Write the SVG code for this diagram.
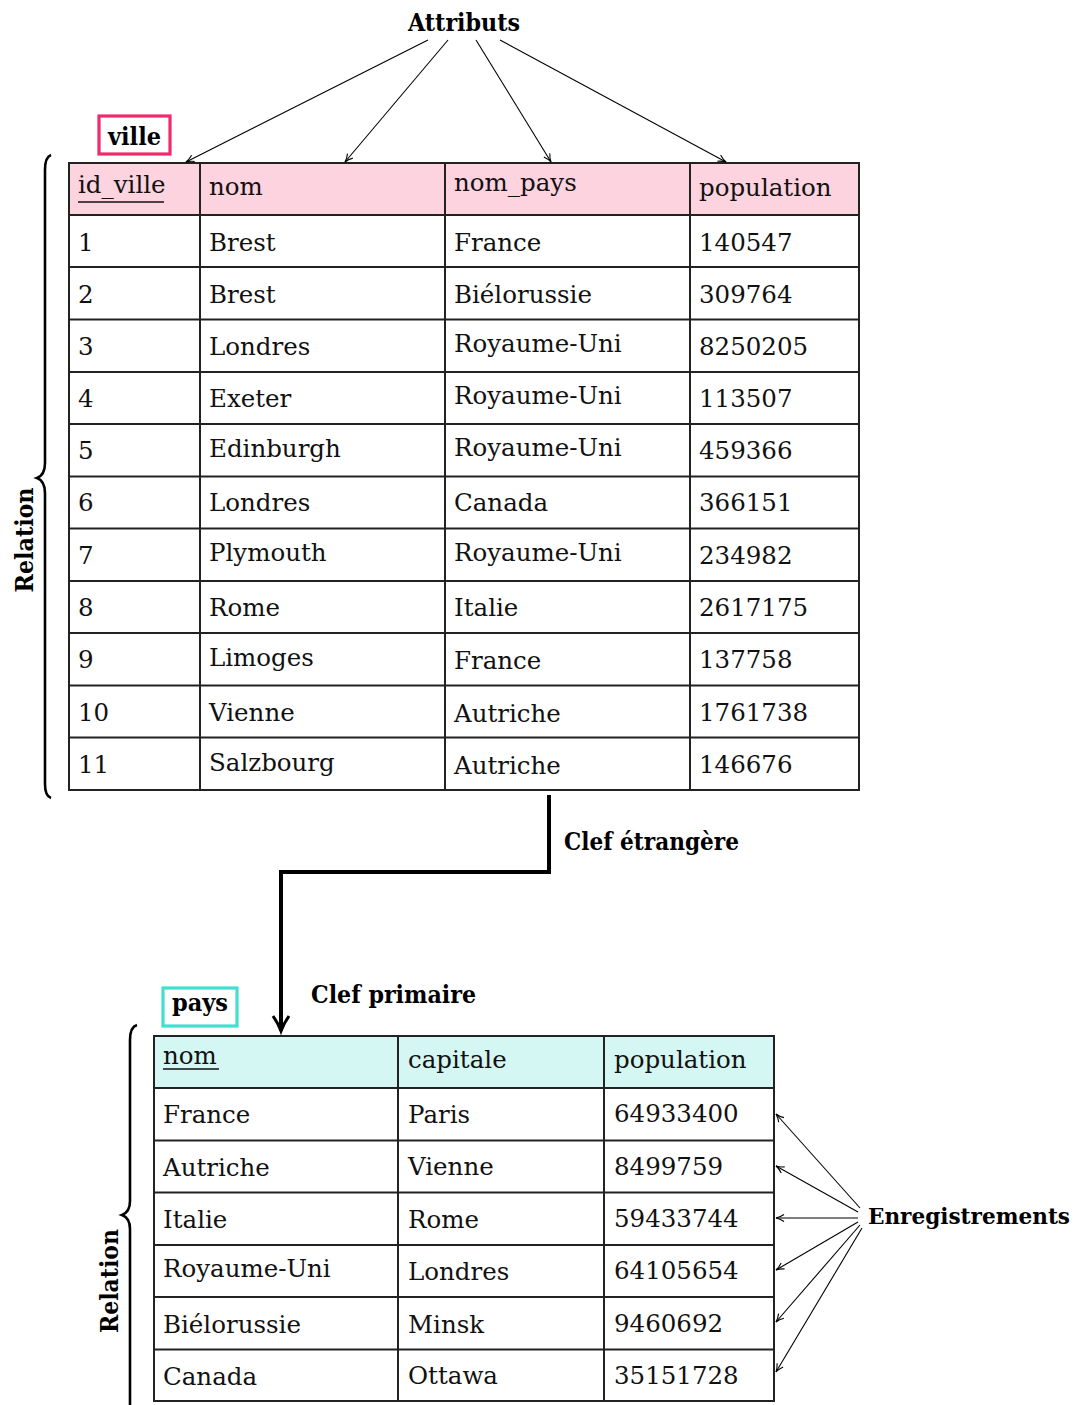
<svg xmlns="http://www.w3.org/2000/svg" width="1080" height="1405" viewBox="0 0 1080 1405">
<defs>
<style>
.t{font-family:"DejaVu Serif","Liberation Serif",serif;font-size:24.5px;fill:#111}
.b{font-family:"DejaVu Serif","Liberation Serif",serif;font-size:24px;font-weight:bold;fill:#000}
.grid{stroke:#222;stroke-width:2;fill:none}
.thin{stroke:#000;stroke-width:1.1;fill:none}
.brace{stroke:#000;stroke-width:2.6;fill:none}
</style>
<marker id="ah" markerWidth="12" markerHeight="10" refX="9" refY="5" orient="auto" markerUnits="userSpaceOnUse">
<path d="M1,1.5 Q5,4.2 9,5 Q5,5.8 1,8.5" fill="none" stroke="#000" stroke-width="1.1"/>
</marker>
<marker id="ahb" markerWidth="22" markerHeight="20" refX="16" refY="10" orient="auto" markerUnits="userSpaceOnUse">
<path d="M1,2 Q9,7.5 16,10 Q9,12.5 1,18" fill="none" stroke="#000" stroke-width="3"/>
</marker>
</defs>
<rect width="1080" height="1405" fill="#fff"/>

<g id="label-attributs"><text class="b" x="408" y="31" textLength="112" lengthAdjust="spacingAndGlyphs">Attributs</text></g>

<g id="ville-label">
<rect x="99" y="116" width="71" height="38" fill="#fff" stroke="#f22a6c" stroke-width="3.2"/>
<text class="b" x="108" y="145" textLength="53" lengthAdjust="spacingAndGlyphs">ville</text>
</g>

<g id="table-ville">
<rect x="69" y="163" width="790" height="52" fill="#fdd3df"/>
<g class="grid">
<rect x="69" y="163" width="790" height="627"/>
<line x1="200" y1="163" x2="200" y2="790"/>
<line x1="445" y1="163" x2="445" y2="790"/>
<line x1="690" y1="163" x2="690" y2="790"/>
<line x1="69" y1="215" x2="859" y2="215"/>
<line x1="69" y1="267" x2="859" y2="267"/>
<line x1="69" y1="319.5" x2="859" y2="319.5"/>
<line x1="69" y1="372" x2="859" y2="372"/>
<line x1="69" y1="424" x2="859" y2="424"/>
<line x1="69" y1="476.5" x2="859" y2="476.5"/>
<line x1="69" y1="528.5" x2="859" y2="528.5"/>
<line x1="69" y1="581" x2="859" y2="581"/>
<line x1="69" y1="633" x2="859" y2="633"/>
<line x1="69" y1="685.5" x2="859" y2="685.5"/>
<line x1="69" y1="737.5" x2="859" y2="737.5"/>
</g>
<line x1="78" y1="202" x2="164" y2="202" stroke="#111" stroke-width="1.3"/>
<text class="t" x="78" y="193">id_ville</text>
<text class="t" x="209" y="195">nom</text>
<text class="t" x="454" y="191">nom_pays</text>
<text class="t" x="699" y="196">population</text>

<text class="t" x="78" y="251">1</text><text class="t" x="209" y="251">Brest</text><text class="t" x="454" y="251">France</text><text class="t" x="699" y="251">140547</text>
<text class="t" x="78" y="303">2</text><text class="t" x="209" y="303">Brest</text><text class="t" x="454" y="303">Biélorussie</text><text class="t" x="699" y="303">309764</text>
<text class="t" x="78" y="355">3</text><text class="t" x="209" y="355">Londres</text><text class="t" x="454" y="352">Royaume-Uni</text><text class="t" x="699" y="355">8250205</text>
<text class="t" x="78" y="407">4</text><text class="t" x="209" y="407">Exeter</text><text class="t" x="454" y="404">Royaume-Uni</text><text class="t" x="699" y="407">113507</text>
<text class="t" x="78" y="459">5</text><text class="t" x="209" y="457">Edinburgh</text><text class="t" x="454" y="456">Royaume-Uni</text><text class="t" x="699" y="459">459366</text>
<text class="t" x="78" y="511">6</text><text class="t" x="209" y="511">Londres</text><text class="t" x="454" y="511">Canada</text><text class="t" x="699" y="511">366151</text>
<text class="t" x="78" y="564">7</text><text class="t" x="209" y="561">Plymouth</text><text class="t" x="454" y="561">Royaume-Uni</text><text class="t" x="699" y="564">234982</text>
<text class="t" x="78" y="616">8</text><text class="t" x="209" y="616">Rome</text><text class="t" x="454" y="616">Italie</text><text class="t" x="699" y="616">2617175</text>
<text class="t" x="78" y="668">9</text><text class="t" x="209" y="666">Limoges</text><text class="t" x="454" y="669">France</text><text class="t" x="699" y="668">137758</text>
<text class="t" x="78" y="721">10</text><text class="t" x="209" y="721">Vienne</text><text class="t" x="454" y="722">Autriche</text><text class="t" x="699" y="721">1761738</text>
<text class="t" x="78" y="773">11</text><text class="t" x="209" y="771">Salzbourg</text><text class="t" x="454" y="774">Autriche</text><text class="t" x="699" y="773">146676</text>
</g>

<g id="brace-ville">
<path class="brace" d="M51,155 Q45,157 45,170 L45,463 Q45,475 37,478 Q45,481 45,493 L45,784 Q45,796 51,798"/>
<text class="b" transform="translate(33,540) rotate(-90)" x="-52.5" textLength="105" lengthAdjust="spacingAndGlyphs">Relation</text>
</g>

<g id="pays-label">
<rect x="163" y="988" width="74" height="38" fill="#fff" stroke="#40dfcf" stroke-width="3.2"/>
<text class="b" x="172" y="1011" textLength="56" lengthAdjust="spacingAndGlyphs">pays</text>
</g>

<g id="table-pays">
<rect x="154" y="1036" width="620" height="52" fill="#d5f7f3"/>
<g class="grid">
<rect x="154" y="1036" width="620" height="365"/>
<line x1="398" y1="1036" x2="398" y2="1401"/>
<line x1="604" y1="1036" x2="604" y2="1401"/>
<line x1="154" y1="1088" x2="774" y2="1088"/>
<line x1="154" y1="1140.5" x2="774" y2="1140.5"/>
<line x1="154" y1="1192.5" x2="774" y2="1192.5"/>
<line x1="154" y1="1245" x2="774" y2="1245"/>
<line x1="154" y1="1297" x2="774" y2="1297"/>
<line x1="154" y1="1349.5" x2="774" y2="1349.5"/>
</g>
<line x1="163" y1="1069" x2="219" y2="1069" stroke="#111" stroke-width="1.3"/>
<text class="t" x="163" y="1064">nom</text>
<text class="t" x="408" y="1068">capitale</text>
<text class="t" x="614" y="1068">population</text>

<text class="t" x="163" y="1123">France</text><text class="t" x="408" y="1123">Paris</text><text class="t" x="614" y="1122">64933400</text>
<text class="t" x="163" y="1176">Autriche</text><text class="t" x="408" y="1175">Vienne</text><text class="t" x="614" y="1175">8499759</text>
<text class="t" x="163" y="1228">Italie</text><text class="t" x="408" y="1228">Rome</text><text class="t" x="614" y="1227">59433744</text>
<text class="t" x="163" y="1277">Royaume-Uni</text><text class="t" x="408" y="1280">Londres</text><text class="t" x="614" y="1279">64105654</text>
<text class="t" x="163" y="1333">Biélorussie</text><text class="t" x="408" y="1333">Minsk</text><text class="t" x="614" y="1332">9460692</text>
<text class="t" x="163" y="1385">Canada</text><text class="t" x="408" y="1384">Ottawa</text><text class="t" x="614" y="1384">35151728</text>
</g>

<g id="brace-pays">
<path class="brace" d="M137,1025 Q130,1027 130,1040 L130,1201 Q130,1212 122,1215 Q130,1218 130,1229 L130,1410"/>
<text class="b" transform="translate(118,1281) rotate(-90)" x="-52" textLength="104" lengthAdjust="spacingAndGlyphs">Relation</text>
</g>

<g id="label-clef-etrangere"><text class="b" x="564" y="850" textLength="175" lengthAdjust="spacingAndGlyphs">Clef étrangère</text></g>
<g id="label-clef-primaire"><text class="b" x="311" y="1003" textLength="165" lengthAdjust="spacingAndGlyphs">Clef primaire</text></g>
<g id="label-enregistrements"><text class="b" x="868" y="1224" style="font-size:21.5px" textLength="202" lengthAdjust="spacingAndGlyphs">Enregistrements</text></g>

<g id="connectors">
<line class="thin" x1="428" y1="40" x2="186" y2="162" marker-end="url(#ah)"/>
<line class="thin" x1="448" y1="40" x2="345" y2="162" marker-end="url(#ah)"/>
<line class="thin" x1="476" y1="40" x2="551" y2="162" marker-end="url(#ah)"/>
<line class="thin" x1="500" y1="40" x2="726" y2="162" marker-end="url(#ah)"/>
<path d="M549,795 L549,872 L281,872 L281,1031" fill="none" stroke="#000" stroke-width="4" marker-end="url(#ahb)"/>
<line class="thin" x1="860" y1="1208" x2="776" y2="1114" marker-end="url(#ah)"/>
<line class="thin" x1="858" y1="1212" x2="776" y2="1166" marker-end="url(#ah)"/>
<line class="thin" x1="858" y1="1218" x2="776" y2="1218" marker-end="url(#ah)"/>
<line class="thin" x1="858" y1="1222" x2="776" y2="1270" marker-end="url(#ah)"/>
<line class="thin" x1="860" y1="1225" x2="776" y2="1322" marker-end="url(#ah)"/>
<line class="thin" x1="862" y1="1228" x2="776" y2="1372" marker-end="url(#ah)"/>
</g>
</svg>
